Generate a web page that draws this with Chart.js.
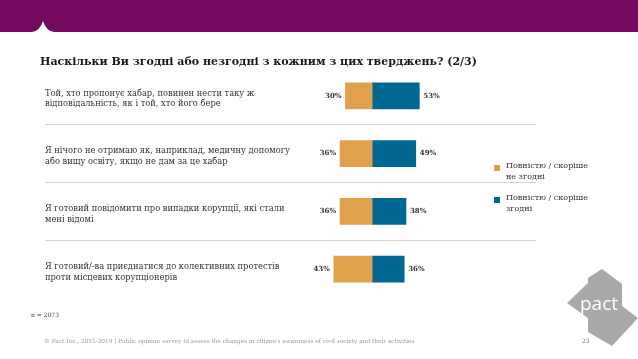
<!DOCTYPE html>
<html>
<head>
<meta charset="utf-8">
<script src="https://cdn.jsdelivr.net/npm/chart.js@4/dist/chart.umd.min.js"></script>
<style>
  html, body { margin: 0; padding: 0; background: #fff; }
  #page { position: relative; width: 638px; height: 359px; overflow: hidden; font-family: "DejaVu Serif", serif; }
  #chart { position: absolute; left: 0; top: 0; }
  .abs { position: absolute; white-space: nowrap; }
  #title { left: 40px; top: 55px; font-size: 11px; font-weight: bold; color: #1a1a1a; }
  .leg { left: 494px; font-size: 8px; line-height: 11px; color: #333; }
  .leg i { position: absolute; left: 0; top: 5px; width: 6px; height: 6px; }
  .leg span { display: block; margin-left: 12px; }
  #n { left: 31px; top: 311px; font-size: 6px; color: #444; }
  #foot { left: 44px; top: 338px; font-size: 5.8px; color: #999; }
  #pg { left: 582px; top: 337px; font-size: 6px; color: #777; }
</style>
</head>
<body>
<div id="page">
  <svg class="abs" style="left:0;top:0" width="638" height="33">
    <path d="M0 0 H638 V32 H54 Q46 31 43 21 Q40 31 32 32 H0 Z" fill="#74095e"/>
  </svg>
  <canvas id="chart" width="638" height="359"></canvas>
  <div id="title" class="abs">Наскільки Ви згодні або незгодні з кожним з цих тверджень? (2/3)</div>
  <div class="abs leg" style="top:160px"><i style="background:#e1a04b"></i><span>Повністю / скоріше</span><span>не згодні</span></div>
  <div class="abs leg" style="top:192px"><i style="background:#006892"></i><span>Повністю / скоріше</span><span>згодні</span></div>
  <div id="n" class="abs">n = 2073</div>
  <div id="foot" class="abs">© Pact Inc., 2015-2019 | Public opinion survey to assess the changes in citizen's awareness of civil society and their activities</div>
  <svg class="abs" style="left:560px;top:262px" width="78" height="90">
    <path d="M42 7 L62 22 L62 44 L78 56 L52 84 L28 70 L28 56 L7 41 L28 21 L28 16 Z" fill="#a9a9a9"/>
    <text x="20" y="48" font-family="Open Sans, sans-serif" font-size="19" fill="#fff">pact</text>
  </svg>
  <div id="pg" class="abs">23</div>
</div>
<script>
const statements = [
  ["Той, хто пропонує хабар, повинен нести таку ж", "відповідальність, як і той, хто його бере"],
  ["Я нічого не отримаю як, наприклад, медичну допомогу", "або вищу освіту, якщо не дам за це хабар"],
  ["Я готовий повідомити про випадки корупції, які стали", "мені відомі"],
  ["Я готовий/-ва приєднатися до колективних протестів", "проти місцевих корупціонерів"],
];
const disagree = [30, 36, 36, 43];
const agree = [53, 49, 38, 36];

const ORANGE = "#e1a04b";
const BLUE = "#006892";

// percent labels at the outer end of each bar
const valueLabels = {
  id: "valueLabels",
  afterDatasetsDraw(chart) {
    const ctx = chart.ctx;
    ctx.save();
    ctx.font = "bold 7px 'DejaVu Serif', serif";
    ctx.fillStyle = "#333";
    ctx.textBaseline = "middle";
    chart.data.datasets.forEach((ds, di) => {
      chart.getDatasetMeta(di).data.forEach((bar, i) => {
        const v = Math.abs(ds.data[i]) + "%";
        if (di === 0) {
          ctx.textAlign = "right";
          ctx.fillText(v, bar.x - 4, bar.y);
        } else {
          ctx.textAlign = "left";
          ctx.fillText(v, bar.x + 4, bar.y);
        }
      });
    });
    ctx.restore();
  },
};

new Chart(document.getElementById("chart"), {
  type: "bar",
  data: {
    labels: statements,
    datasets: [
      { label: "Повністю / скоріше не згодні", data: disagree.map((v) => -v), backgroundColor: ORANGE },
      { label: "Повністю / скоріше згодні", data: agree, backgroundColor: BLUE },
    ],
  },
  options: {
    indexAxis: "y",
    responsive: false,
    animation: false,
    events: [],
    layout: { padding: { left: 45, right: 102, top: 67, bottom: 61 } },
    barThickness: 26,
    plugins: { legend: { display: false }, tooltip: { enabled: false } },
    scales: {
      x: { stacked: true, display: false, min: -81, max: 184 },
      y: {
        stacked: true,
        border: { display: false },
        grid: {
          offset: true,
          tickLength: 255,
          lineWidth: 1,
          color: (c) => (c.type !== "tick" || c.index === 0) ? "rgba(0,0,0,0)" : "#d8d5cf",
        },
        ticks: {
          crossAlign: "far",
          padding: 0,
          labelOffset: 3,
          color: "#333",
          font: { family: "'DejaVu Serif', serif", size: 8.3, lineHeight: 1.3 },
        },
        afterFit: (s) => { s.width = 255; },
      },
    },
  },
  plugins: [valueLabels],
});
</script>
</body>
</html>
